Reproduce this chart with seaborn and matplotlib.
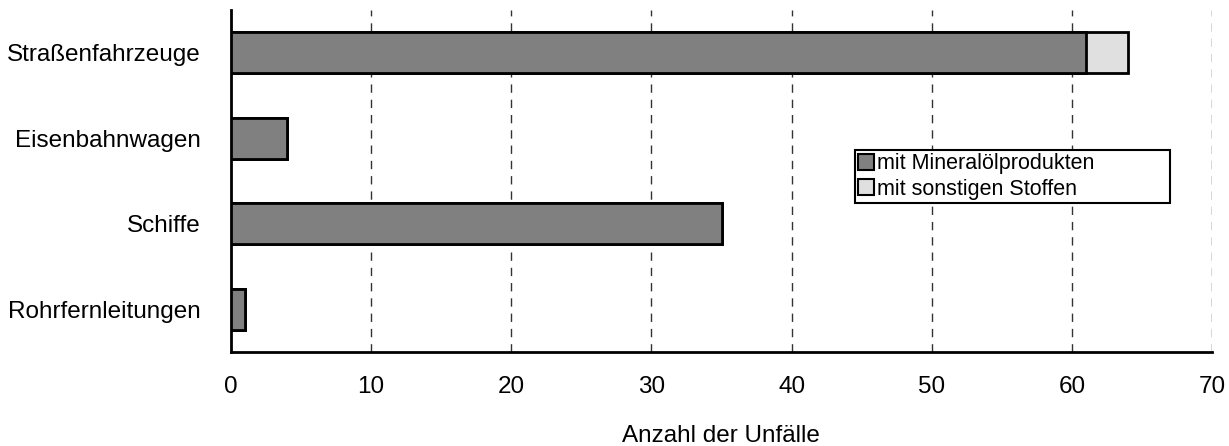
import matplotlib
matplotlib.use("Agg")
import matplotlib.pyplot as plt
import seaborn as sns
import pandas as pd
from matplotlib.patches import Patch

# Daten
kategorien = ["Straßenfahrzeuge", "Eisenbahnwagen", "Schiffe", "Rohrfernleitungen"]
mineraloel = [61, 4, 35, 1]
sonstige = [3, 0, 0, 0]
x_ticks = [0, 10, 20, 30, 40, 50, 60, 70]

df = pd.DataFrame({
    "Kategorie": kategorien,
    "Mineral": mineraloel,
    "Gesamt": [m + s for m, s in zip(mineraloel, sonstige)],
})

sns.set_style("white")
plt.rcParams["font.family"] = ["Liberation Sans", "DejaVu Sans"]
plt.rcParams["text.color"] = "black"
plt.rcParams["xtick.labelcolor"] = "black"
plt.rcParams["ytick.labelcolor"] = "black"

fig = plt.figure(figsize=(12.29, 4.46), dpi=100)
ax = fig.add_axes([231 / 1229, 1 - 352 / 446, (1212 - 231) / 1229, (352 - 10) / 446])

# gestapelte Balken: erst Gesamt (hell), dann Mineralöl (dunkel) darüber
sns.barplot(data=df, x="Gesamt", y="Kategorie", orient="h", color="#e0e0e0",
            edgecolor="black", linewidth=2, width=0.48, saturation=1, ax=ax, zorder=3)
sns.barplot(data=df, x="Mineral", y="Kategorie", orient="h", color="#808080",
            edgecolor="black", linewidth=2, width=0.48, saturation=1, ax=ax, zorder=3)

ax.set_xlim(0, 70)
ax.set_ylim(3.5, -0.5)
ax.set_xticks(x_ticks)
ax.tick_params(axis="x", length=11, width=1.5, color="black", labelsize=17.5, pad=6)
ax.tick_params(axis="y", length=0, labelsize=17.5, pad=22)
ax.set_ylabel("")
ax.set_xlabel("")
fig.text(721 / 1229, 1 - 436 / 446, "Anzahl der Unfälle", fontsize=17.5,
         ha="center", va="center")

for t in x_ticks[1:]:
    ax.axvline(t, color="#333333", linestyle=(0, (6, 5)), linewidth=1, zorder=1)

for s in ["top", "right"]:
    ax.spines[s].set_visible(False)
ax.spines["left"].set_linewidth(2)
ax.spines["bottom"].set_linewidth(2)
ax.spines["left"].set_color("black")
ax.spines["bottom"].set_color("black")

handles = [Patch(facecolor="#808080", edgecolor="black", linewidth=1.5),
           Patch(facecolor="#e0e0e0", edgecolor="black", linewidth=1.5)]
leg = fig.legend(handles, ["mit Mineralölprodukten", "mit sonstigen Stoffen"],
                 loc="upper left",
                 bbox_to_anchor=(855 / 1229, 1 - 150 / 446, (1170 - 855) / 1229, 0),
                 mode="expand", fontsize=15.5, frameon=True, fancybox=False,
                 borderaxespad=0, handlelength=0.75, handleheight=0.75,
                 handletextpad=0.1, borderpad=0.15, labelspacing=0.2)
leg.get_frame().set_edgecolor("black")
leg.get_frame().set_linewidth(1.5)
leg.get_frame().set_alpha(1)

fig.savefig("out.png", dpi=100)
